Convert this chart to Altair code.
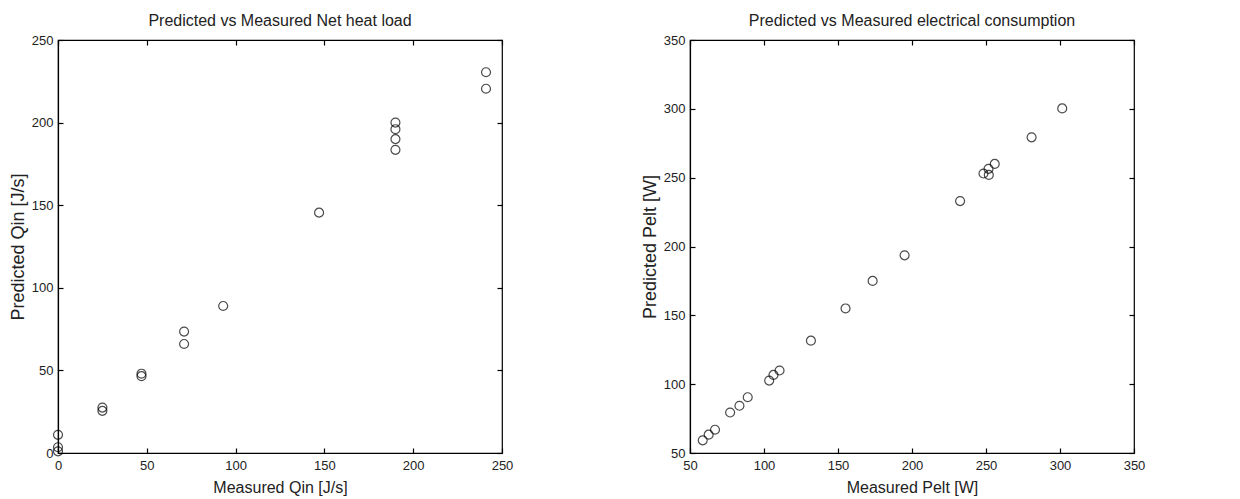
import altair as alt
import pandas as pd

# Left panel: net heat load
qin_measured = [0, 0, 0, 25, 25, 47, 47, 71, 71, 93, 147, 190, 190, 190, 190, 241, 241]
qin_predicted = [1, 3.5, 11, 25.5, 27.5, 46.5, 48, 66, 73.5, 89, 145.5, 183.5, 190, 196, 200, 220.5, 230.5]
qin_ticks = [0, 50, 100, 150, 200, 250]

# Right panel: electrical consumption
pelt_measured = [58.6, 62.6, 66.9, 77.1, 83.4, 89.0, 103.5, 106.4, 110.5, 131.7, 155.1, 173.4,
                 195.0, 232.5, 248.3, 251.7, 251.9, 255.9, 280.8, 301.5]
pelt_predicted = [59.2, 63.3, 66.9, 79.4, 84.3, 90.5, 102.6, 106.7, 109.9, 131.6, 155.0, 175.0,
                  193.6, 233.0, 253.0, 256.4, 252.0, 260.0, 279.3, 300.3]
pelt_ticks = [50, 100, 150, 200, 250, 300, 350]

W, H = 444, 413
FONT = "Liberation Sans, Arial"
TXT = "#222222"


def panel(mx, py, ticks, xtitle, ytitle, title):
    df = pd.DataFrame({"m": mx, "p": py})
    dom = [ticks[0], ticks[-1]]
    sc = alt.Scale(domain=dom, nice=False, zero=False)
    base = alt.Chart(df)

    main = base.mark_point(shape="circle", filled=False, color="#000000", size=80, strokeWidth=1.2).encode(
        x=alt.X("m:Q", scale=sc, axis=alt.Axis(
            orient="bottom", values=ticks, ticks=False, grid=False, labelFlush=False,
            domainColor="#000000", domainWidth=1.2,
            labelFont=FONT, labelFontSize=13, labelColor=TXT, labelPadding=6,
            title=xtitle, titleFont=FONT, titleFontSize=16, titleFontWeight="normal",
            titleColor=TXT, titlePadding=7)),
        y=alt.Y("p:Q", scale=sc, axis=alt.Axis(
            orient="left", values=ticks, ticks=False, grid=False, labelFlush=False,
            domainColor="#000000", domainWidth=1.2,
            labelFont=FONT, labelFontSize=13, labelColor=TXT, labelPadding=5,
            title=ytitle, titleFont=FONT, titleFontSize=18, titleFontWeight="normal",
            titleColor=TXT, titlePadding=4)),
    )

    def tick_axis(orient, off):
        return alt.Axis(orient=orient, offset=off, values=ticks, labels=False, domain=False,
                        grid=False, ticks=True, tickSize=5, tickColor="#000000", tickWidth=1.2,
                        title=None)

    # inward ticks at bottom and left edges
    t1 = base.mark_point(opacity=0).encode(
        x=alt.X("m:Q", scale=sc, axis=tick_axis("top", -H)),
        y=alt.Y("p:Q", scale=sc, axis=tick_axis("right", -W)),
    )
    # inward ticks at top and right edges
    t2 = base.mark_point(opacity=0).encode(
        x=alt.X("m:Q", scale=sc, axis=tick_axis("bottom", -H)),
        y=alt.Y("p:Q", scale=sc, axis=tick_axis("left", -W)),
    )

    return alt.layer(main, t1, t2).resolve_axis(x="independent", y="independent").properties(
        width=W, height=H,
        title=alt.TitleParams(text=title, font=FONT, fontSize=16, fontWeight="normal",
                              color=TXT, anchor="middle", offset=5),
    )


left = panel(qin_measured, qin_predicted, qin_ticks,
             "Measured Qin [J/s]", "Predicted Qin [J/s]", "Predicted vs Measured Net heat load")
right = panel(pelt_measured, pelt_predicted, pelt_ticks,
              "Measured Pelt [W]", "Predicted Pelt [W]", "Predicted vs Measured electrical consumption")

chart = alt.hconcat(left, right, spacing=188, bounds="flush").properties(
    padding={"left": 0, "top": 4, "right": 0, "bottom": 0},
    background="#ffffff",
).configure_view(stroke="#000000", strokeWidth=1.2)

chart.save("out.html", embed_options={"renderer": "svg", "actions": False})
